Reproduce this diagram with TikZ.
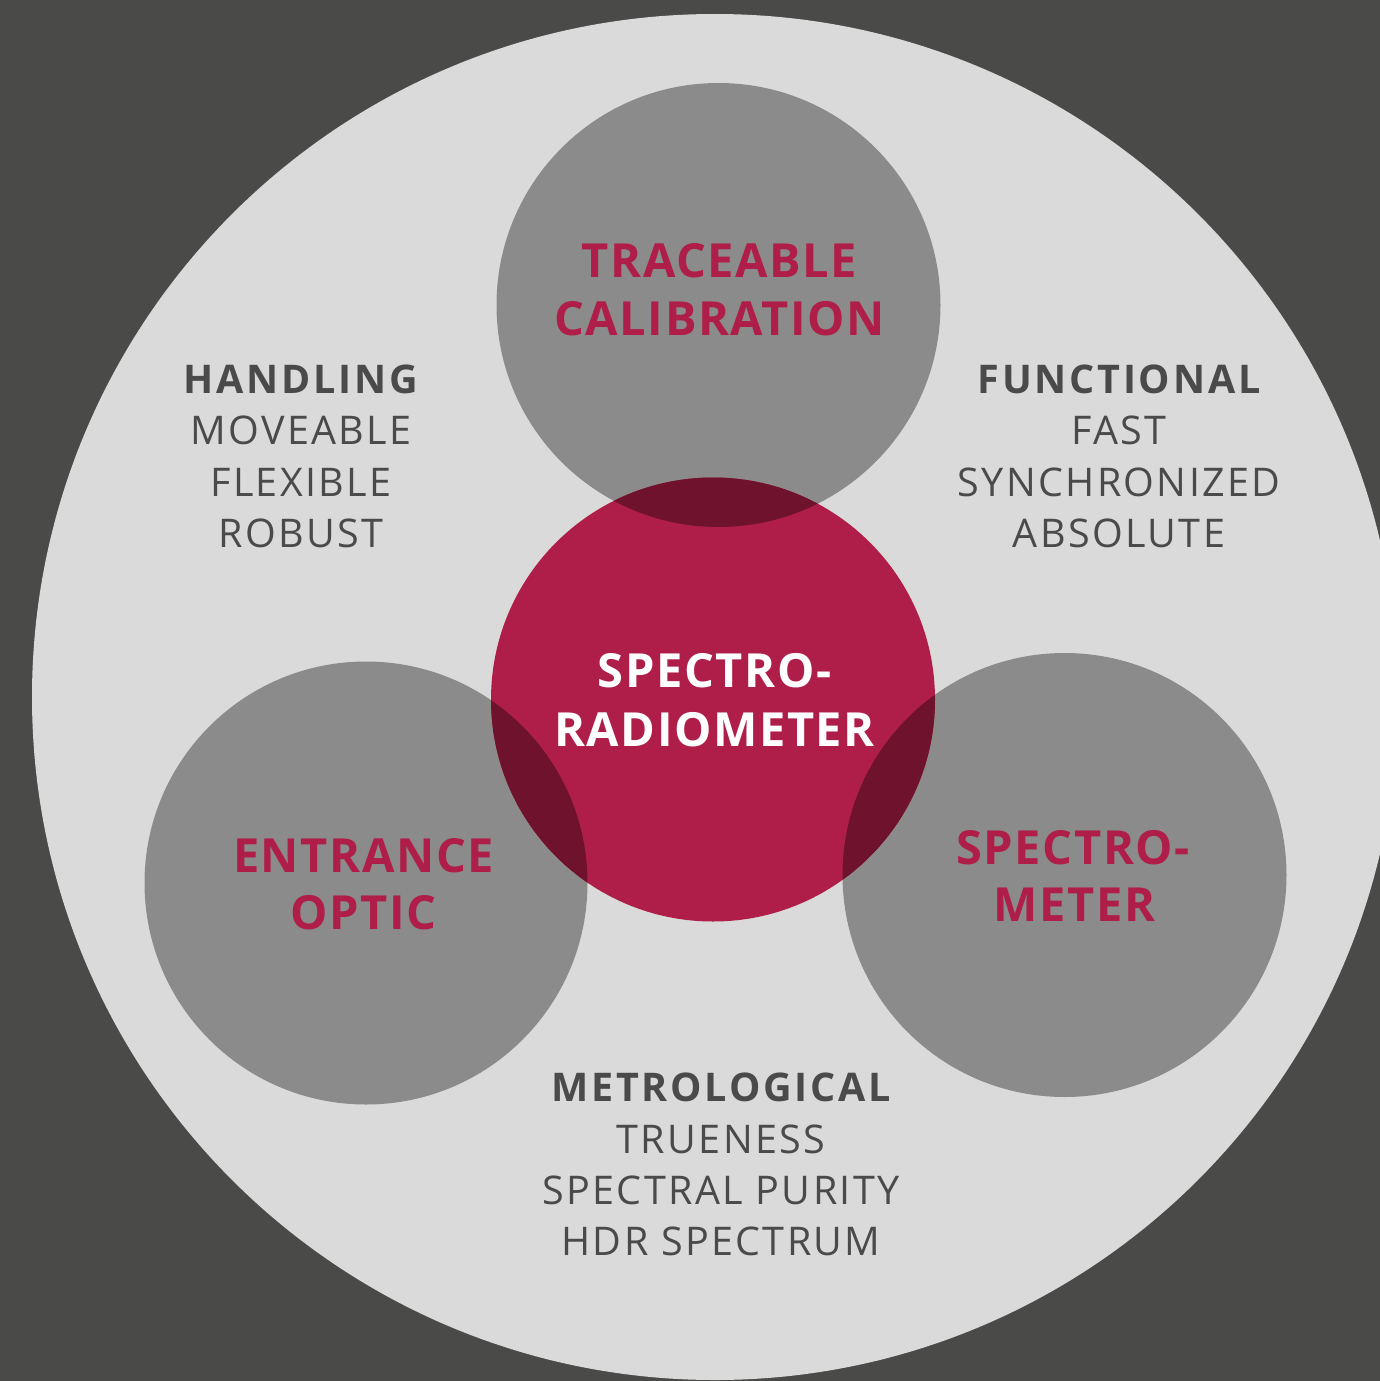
\documentclass[tikz,border=0pt]{standalone}
\usepackage{fontspec}
\setmainfont{Open Sans}
\newfontfamily\labelfont[LetterSpace=3.4]{Open Sans}
\newfontfamily\sidefont[LetterSpace=6]{Open Sans}
\newfontfamily\sideheadfont[LetterSpace=7]{Open Sans}
\definecolor{bgdark}{HTML}{4A4A49}
\definecolor{bglight}{HTML}{DADADA}
\definecolor{grayc}{HTML}{8B8B8B}
\definecolor{redc}{HTML}{AF1E48}
\definecolor{darkred}{HTML}{6E122E}
\definecolor{textdark}{HTML}{4A4A4A}
\tikzset{
  redlabel/.style={text=redc, font=\labelfont\bfseries\fontsize{47}{58}\selectfont, anchor=base, inner sep=0pt},
  whitelabel/.style={text=white, font=\labelfont\bfseries\fontsize{47}{59}\selectfont, anchor=base, inner sep=0pt},
  sidehead/.style={text=textdark, font=\sideheadfont\bfseries\fontsize{39.5}{51.5}\selectfont, anchor=base, inner sep=0pt},
  sideitem/.style={text=textdark, font=\sidefont\fontsize{39.5}{51.5}\selectfont, anchor=base, inner sep=0pt},
}
\begin{document}
\begin{tikzpicture}[x=1pt,y=-1pt]
\useasboundingbox (0,0) rectangle (1380,1381);
\clip (0,0) rectangle (1380,1381);
\fill[bgdark] (0,0) rectangle (1380,1381);
\fill[bglight] (715,697) circle[radius=683];
% gray circles
\fill[grayc] (718.5,305) circle[radius=222];
\fill[grayc] (366,883) circle[radius=221.5];
\fill[grayc] (1064.5,875) circle[radius=222];
% red circle
\fill[redc] (713,699.5) circle[radius=222];
\begin{scope}
  \clip (713,699.5) circle[radius=222];
  \fill[darkred] (718.5,305) circle[radius=222];
  \fill[darkred] (366,883) circle[radius=221.5];
  \fill[darkred] (1064.5,875) circle[radius=222];
\end{scope}
% circle labels
\node[redlabel] (tc1) at (719.5,277) {TRACEABLE};
\node[redlabel] (tc2) at (719.5,335) {CALIBRATION};
\node[whitelabel] (sr1) at (714.5,687) {SPECTRO-};
\node[whitelabel] (sr2) at (714.5,746) {RADIOMETER};
\node[redlabel] (eo1) at (363.5,872) {ENTRANCE};
\node[redlabel] (eo2) at (363.5,929) {OPTIC};
\node[redlabel] (sm1) at (1073,864) {SPECTRO-};
\node[redlabel] (sm2) at (1074.5,921) {METER};
% side texts
\node[sidehead] (h0) at (301,393) {HANDLING};
\node[sideitem] (h1) at (301,444.5) {MOVEABLE};
\node[sideitem] (h2) at (301,496) {FLEXIBLE};
\node[sideitem] (h3) at (301,547.5) {ROBUST};
\node[sidehead] (f0) at (1119,393) {FUNCTIONAL};
\node[sideitem] (f1) at (1119,444.5) {FAST};
\node[sideitem] (f2) at (1119,496) {SYNCHRONIZED};
\node[sideitem] (f3) at (1119,547.5) {ABSOLUTE};
\node[sidehead] (m0) at (721,1101.5) {METROLOGICAL};
\node[sideitem] (m1) at (721,1153) {TRUENESS};
\node[sideitem] (m2) at (721,1204) {SPECTRAL PURITY};
\node[sideitem] (m3) at (721,1255) {HDR SPECTRUM};
\end{tikzpicture}
\end{document}
